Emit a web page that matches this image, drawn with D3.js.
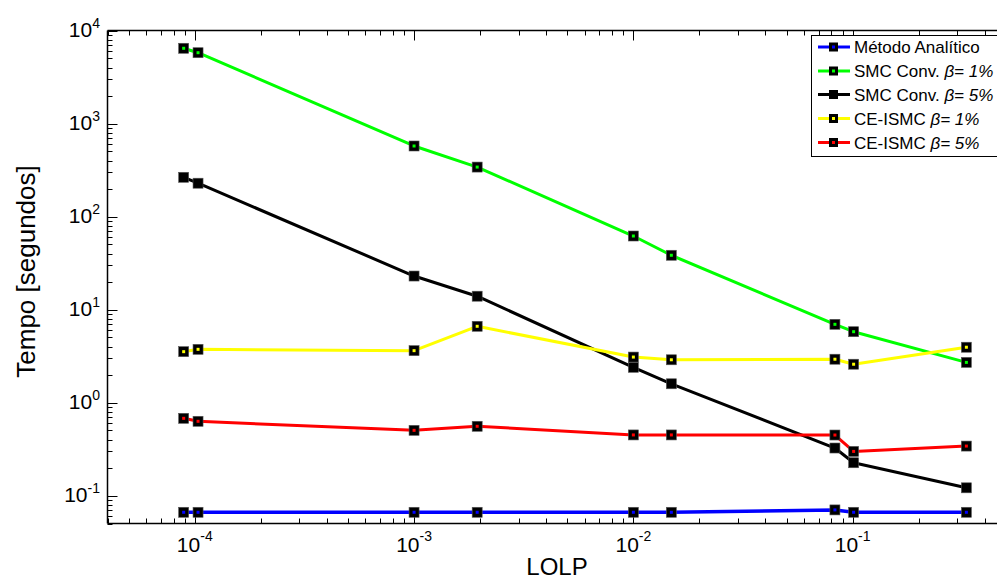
<!DOCTYPE html>
<html><head><meta charset="utf-8">
<script src="https://cdn.jsdelivr.net/npm/d3@7"></script>
<style>body{margin:0;background:#fff;overflow:hidden} text{font-family:"Liberation Sans",Arial,Helvetica,sans-serif}</style>
</head><body><svg id="c" width="997" height="581"></svg>
<script>
// ---- data ----
const lolp = [8.9e-5, 1.035e-4, 1e-3, 1.94e-3, 1e-2, 1.49e-2, 8.3e-2, 0.101, 0.33];
const metodoAnalitico = [0.066, 0.066, 0.066, 0.066, 0.066, 0.066, 0.070, 0.066, 0.066];
const smcConv1 = [6440, 5770, 573, 340, 61.7, 38.3, 6.93, 5.77, 2.70];
const smcConv5 = [264, 228, 22.9, 13.9, 2.39, 1.59, 0.324, 0.225, 0.121];
const ceIsmc1 = [3.52, 3.73, 3.61, 6.6, 3.08, 2.88, 2.92, 2.58, 3.93];
const ceIsmc5 = [0.676, 0.628, 0.502, 0.555, 0.448, 0.448, 0.447, 0.298, 0.340];
const seriesLabels = ["Método Analítico", "SMC Conv. ", "SMC Conv. ", "CE-ISMC ", "CE-ISMC "];
const seriesBeta = ["", "β= 1%", "β= 5%", "β= 1%", "β= 5%"];
const seriesColors = ["#0000ff", "#00ff00", "#000000", "#ffff00", "#ff0000"];
const xTickExps = [-4, -3, -2, -1];
const yTickExps = [-1, 0, 1, 2, 3, 4];
const xLabel = "LOLP";
const yLabel = "Tempo [segundos]";

const seriesValues = [metodoAnalitico, smcConv1, smcConv5, ceIsmc1, ceIsmc5];

const svg = d3.select("#c");
const W = 997, H = 581;
const L = 107.5, T = 30.5, B = 523.5;
const decade = 219.3;
const x = d3.scaleLog().domain([4e-5, 1]).range([L, L + decade * Math.log10(1 / 4e-5)]);
const y = d3.scaleLog().domain([0.05, 1e4]).range([B, T]);

// ticks
const g = svg.append("g");
const xMinor = x.ticks().filter(v => v >= 4e-5 && x(v) <= W + 2);
const yMinor = y.ticks().filter(v => v >= 0.05 && v <= 1e4);
const isMajor = v => Math.abs(Math.log10(v) - Math.round(Math.log10(v))) < 1e-9;

xMinor.forEach(v => {
  const len = isMajor(v) ? 10 : 5;
  const px = Math.round(x(v)) + 0.5;
  g.append("line").attr("x1", px).attr("x2", px).attr("y1", B).attr("y2", B - len).attr("stroke", "#000").attr("stroke-width", 1);
  g.append("line").attr("x1", px).attr("x2", px).attr("y1", T).attr("y2", T + len).attr("stroke", "#000").attr("stroke-width", 1);
});
yMinor.forEach(v => {
  const len = isMajor(v) ? 10 : 5;
  const py = Math.round(y(v)) + 0.5;
  g.append("line").attr("x1", L).attr("x2", L + len).attr("y1", py).attr("y2", py).attr("stroke", "#000").attr("stroke-width", 1);
});
// axis lines
g.append("line").attr("x1", L).attr("x2", W).attr("y1", B).attr("y2", B).attr("stroke", "#000").attr("stroke-width", 1.5);
g.append("line").attr("x1", L).attr("x2", W).attr("y1", T).attr("y2", T).attr("stroke", "#000").attr("stroke-width", 1.5);
g.append("line").attr("x1", L).attr("x2", L).attr("y1", T).attr("y2", B).attr("stroke", "#000").attr("stroke-width", 1.5);

// tick labels
xTickExps.forEach(e => {
  const t = g.append("text").attr("x", x(Math.pow(10, e))).attr("y", 552).attr("text-anchor", "middle").attr("font-size", 21).attr("fill", "#000");
  t.append("tspan").text("10");
  t.append("tspan").attr("dy", -11).attr("font-size", 14).text(String(e));
});
yTickExps.forEach(e => {
  const t = g.append("text").attr("x", 100).attr("y", y(Math.pow(10, e)) + 6.5).attr("text-anchor", "end").attr("font-size", 21).attr("fill", "#000");
  t.append("tspan").text("10");
  t.append("tspan").attr("dy", -9).attr("font-size", 14).text(String(e));
});

// axis labels
svg.append("text").attr("x", 557).attr("y", 575).attr("text-anchor", "middle").attr("font-size", 24).text(xLabel);
svg.append("text").attr("transform", "translate(35,271.5) rotate(-90)").attr("text-anchor", "middle").attr("font-size", 26).text(yLabel);

// series
const line = d3.line().x(d => x(d[0])).y(d => y(d[1]));
seriesValues.forEach((vals, i) => {
  const pts = lolp.map((v, j) => [v, vals[j]]);
  const sg = svg.append("g");
  sg.append("path").attr("d", line(pts)).attr("fill", "none").attr("stroke", seriesColors[i]).attr("stroke-width", i === 0 ? 3.5 : 3).attr("stroke-linejoin", "round");
  pts.forEach(p => {
    sg.append("rect").attr("x", x(p[0]) - 5).attr("y", y(p[1]) - 5).attr("width", 10).attr("height", 10).attr("fill", "#000").attr("stroke", "#555").attr("stroke-width", 0.6);
    if (seriesColors[i] !== "#000000")
      sg.append("rect").attr("x", x(p[0]) - 1.5).attr("y", y(p[1]) - 1.5).attr("width", 3).attr("height", 3).attr("fill", seriesColors[i]);
  });
});

// legend
const lg = svg.append("g");
lg.append("rect").attr("x", 811.5).attr("y", 35.5).attr("width", 200).attr("height", 121).attr("fill", "#fff").attr("stroke", "#000").attr("stroke-width", 1);
const rowY = [47, 71, 94.5, 118.5, 142.5];
seriesLabels.forEach((lab, i) => {
  const cy = rowY[i];
  lg.append("line").attr("x1", 818).attr("x2", 850).attr("y1", cy).attr("y2", cy).attr("stroke", seriesColors[i]).attr("stroke-width", 3);
  lg.append("rect").attr("x", 829).attr("y", cy - 4.5).attr("width", 9).attr("height", 9).attr("fill", "#000");
  if (seriesColors[i] !== "#000000")
    lg.append("rect").attr("x", 832).attr("y", cy - 1.5).attr("width", 3).attr("height", 3).attr("fill", seriesColors[i]);
  const t = lg.append("text").attr("x", 854).attr("y", cy + 6).attr("font-size", 17).attr("fill", "#000");
  t.append("tspan").text(lab);
  if (seriesBeta[i]) t.append("tspan").attr("font-style", "italic").text(seriesBeta[i]);
});
</script></body></html>
